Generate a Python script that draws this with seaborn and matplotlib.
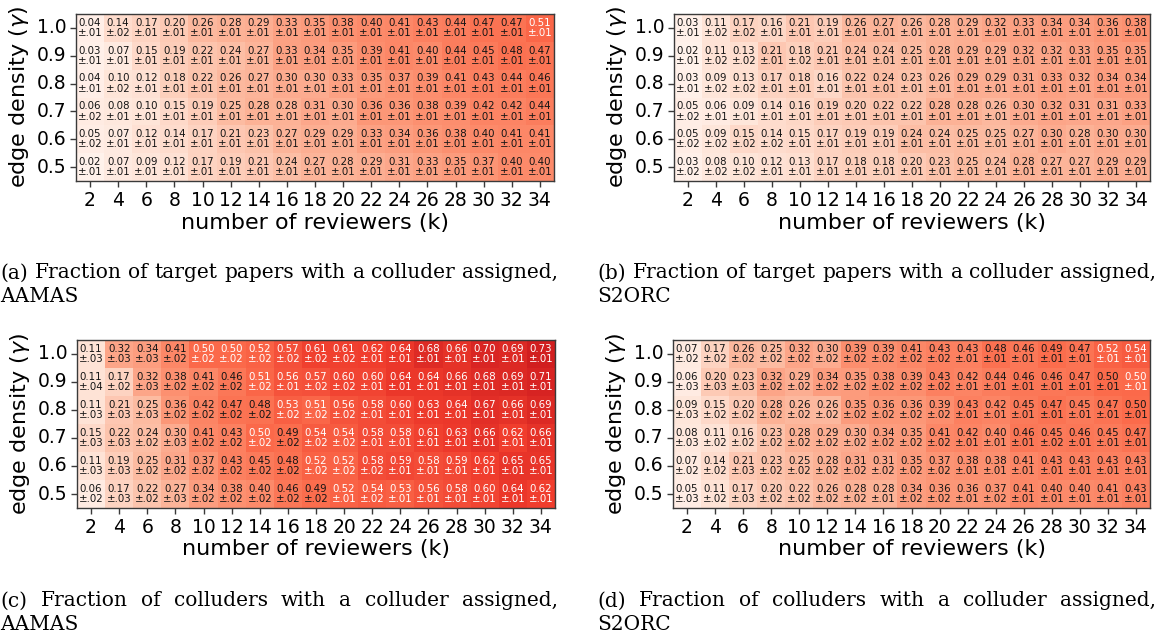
import numpy as np
import pandas as pd
import matplotlib
matplotlib.use("Agg")
import matplotlib.pyplot as plt
import seaborn as sns

# ---------------- data ----------------
k_values = [2, 4, 6, 8, 10, 12, 14, 16, 18, 20, 22, 24, 26, 28, 30, 32, 34]
gamma_labels = ["1.0", "0.9", "0.8", "0.7", "0.6", "0.5"]

a_mean = [
    [0.04, 0.14, 0.17, 0.20, 0.26, 0.28, 0.29, 0.33, 0.35, 0.38, 0.40, 0.41, 0.43, 0.44, 0.47, 0.47, 0.51],
    [0.03, 0.07, 0.15, 0.19, 0.22, 0.24, 0.27, 0.33, 0.34, 0.35, 0.39, 0.41, 0.40, 0.44, 0.45, 0.48, 0.47],
    [0.04, 0.10, 0.12, 0.18, 0.22, 0.26, 0.27, 0.30, 0.30, 0.33, 0.35, 0.37, 0.39, 0.41, 0.43, 0.44, 0.46],
    [0.06, 0.08, 0.10, 0.15, 0.19, 0.25, 0.28, 0.28, 0.31, 0.30, 0.36, 0.36, 0.38, 0.39, 0.42, 0.42, 0.44],
    [0.05, 0.07, 0.12, 0.14, 0.17, 0.21, 0.23, 0.27, 0.29, 0.29, 0.33, 0.34, 0.36, 0.38, 0.40, 0.41, 0.41],
    [0.02, 0.07, 0.09, 0.12, 0.17, 0.19, 0.21, 0.24, 0.27, 0.28, 0.29, 0.31, 0.33, 0.35, 0.37, 0.40, 0.40],
]
a_err = [
    [.01, .02, .01, .01, .01, .01, .01, .01, .01, .01, .01, .01, .01, .01, .01, .01, .01],
    [.01, .01, .01, .01, .01, .01, .01, .01, .01, .01, .01, .01, .01, .01, .01, .01, .01],
    [.01, .02, .01, .01, .01, .01, .01, .01, .01, .01, .01, .01, .01, .01, .01, .01, .01],
    [.02, .01, .01, .01, .01, .01, .01, .01, .01, .01, .01, .01, .01, .01, .01, .01, .01],
    [.02, .01, .01, .01, .01, .01, .01, .01, .01, .01, .01, .01, .01, .01, .01, .01, .01],
    [.01, .01, .01, .01, .01, .01, .01, .01, .01, .01, .01, .01, .01, .01, .01, .01, .01],
]

b_mean = [
    [0.03, 0.11, 0.17, 0.16, 0.21, 0.19, 0.26, 0.27, 0.26, 0.28, 0.29, 0.32, 0.33, 0.34, 0.34, 0.36, 0.38],
    [0.02, 0.11, 0.13, 0.21, 0.18, 0.21, 0.24, 0.24, 0.25, 0.28, 0.29, 0.29, 0.32, 0.32, 0.33, 0.35, 0.35],
    [0.03, 0.09, 0.13, 0.17, 0.18, 0.16, 0.22, 0.24, 0.23, 0.26, 0.29, 0.29, 0.31, 0.33, 0.32, 0.34, 0.34],
    [0.05, 0.06, 0.09, 0.14, 0.16, 0.19, 0.20, 0.22, 0.22, 0.28, 0.28, 0.26, 0.30, 0.32, 0.31, 0.31, 0.33],
    [0.05, 0.09, 0.15, 0.14, 0.15, 0.17, 0.19, 0.19, 0.24, 0.24, 0.25, 0.25, 0.27, 0.30, 0.28, 0.30, 0.30],
    [0.03, 0.08, 0.10, 0.12, 0.13, 0.17, 0.18, 0.18, 0.20, 0.23, 0.25, 0.24, 0.28, 0.27, 0.27, 0.29, 0.29],
]
b_err = [
    [.01, .02, .02, .01, .01, .01, .01, .01, .01, .01, .01, .01, .01, .01, .01, .01, .01],
    [.01, .02, .02, .01, .02, .01, .01, .01, .01, .01, .01, .01, .01, .01, .01, .01, .01],
    [.01, .02, .02, .01, .01, .01, .01, .01, .01, .01, .01, .01, .01, .01, .01, .01, .01],
    [.02, .01, .01, .01, .01, .01, .01, .01, .01, .01, .01, .01, .01, .01, .01, .01, .01],
    [.02, .02, .02, .02, .01, .01, .01, .01, .01, .01, .01, .01, .01, .01, .01, .01, .01],
    [.02, .02, .02, .01, .01, .01, .01, .01, .01, .01, .01, .01, .01, .01, .01, .01, .01],
]

c_mean = [
    [0.11, 0.32, 0.34, 0.41, 0.50, 0.50, 0.52, 0.57, 0.61, 0.61, 0.62, 0.64, 0.68, 0.66, 0.70, 0.69, 0.73],
    [0.11, 0.17, 0.32, 0.38, 0.41, 0.46, 0.51, 0.56, 0.57, 0.60, 0.60, 0.64, 0.64, 0.66, 0.68, 0.69, 0.71],
    [0.11, 0.21, 0.25, 0.36, 0.42, 0.47, 0.48, 0.53, 0.51, 0.56, 0.58, 0.60, 0.63, 0.64, 0.67, 0.66, 0.69],
    [0.15, 0.22, 0.24, 0.30, 0.41, 0.43, 0.50, 0.49, 0.54, 0.54, 0.58, 0.58, 0.61, 0.63, 0.66, 0.62, 0.66],
    [0.11, 0.19, 0.25, 0.31, 0.37, 0.43, 0.45, 0.48, 0.52, 0.52, 0.58, 0.59, 0.58, 0.59, 0.62, 0.65, 0.65],
    [0.06, 0.17, 0.22, 0.27, 0.34, 0.38, 0.40, 0.46, 0.49, 0.52, 0.54, 0.53, 0.56, 0.58, 0.60, 0.64, 0.62],
]
c_err = [
    [.03, .03, .03, .02, .02, .02, .02, .02, .02, .02, .01, .01, .01, .01, .01, .01, .01],
    [.04, .02, .03, .02, .02, .02, .02, .01, .02, .02, .01, .01, .01, .01, .01, .01, .01],
    [.03, .03, .03, .02, .02, .02, .02, .02, .02, .02, .01, .01, .01, .01, .01, .01, .01],
    [.03, .03, .02, .03, .02, .02, .02, .02, .02, .02, .01, .01, .01, .01, .01, .01, .01],
    [.03, .03, .02, .02, .02, .02, .02, .02, .02, .02, .02, .01, .01, .01, .01, .01, .01],
    [.02, .03, .02, .03, .02, .02, .02, .02, .02, .01, .02, .01, .01, .01, .01, .01, .01],
]

d_mean = [
    [0.07, 0.17, 0.26, 0.25, 0.32, 0.30, 0.39, 0.39, 0.41, 0.43, 0.43, 0.48, 0.46, 0.49, 0.47, 0.52, 0.54],
    [0.06, 0.20, 0.23, 0.32, 0.29, 0.34, 0.35, 0.38, 0.39, 0.43, 0.42, 0.44, 0.46, 0.46, 0.47, 0.498, 0.503],
    [0.09, 0.15, 0.20, 0.28, 0.26, 0.26, 0.35, 0.36, 0.36, 0.39, 0.43, 0.42, 0.45, 0.47, 0.45, 0.47, 0.498],
    [0.08, 0.11, 0.16, 0.23, 0.28, 0.29, 0.30, 0.34, 0.35, 0.41, 0.42, 0.40, 0.46, 0.45, 0.46, 0.45, 0.47],
    [0.07, 0.14, 0.21, 0.23, 0.25, 0.28, 0.31, 0.31, 0.35, 0.37, 0.38, 0.38, 0.41, 0.43, 0.43, 0.43, 0.43],
    [0.05, 0.11, 0.17, 0.20, 0.22, 0.26, 0.28, 0.28, 0.34, 0.36, 0.36, 0.37, 0.41, 0.40, 0.40, 0.41, 0.43],
]
d_err = [
    [.02, .02, .02, .02, .02, .02, .02, .02, .02, .02, .01, .01, .01, .01, .01, .01, .01],
    [.03, .03, .03, .02, .02, .02, .02, .02, .02, .02, .01, .01, .01, .01, .01, .01, .01],
    [.03, .02, .02, .02, .02, .02, .02, .02, .02, .02, .01, .01, .01, .01, .01, .01, .01],
    [.03, .02, .02, .02, .02, .02, .02, .02, .02, .02, .01, .01, .01, .02, .01, .01, .01],
    [.02, .02, .03, .02, .02, .02, .02, .02, .02, .02, .01, .01, .01, .01, .01, .01, .01],
    [.03, .02, .03, .02, .02, .02, .02, .01, .02, .02, .01, .02, .01, .01, .01, .01, .01],
]

captions = [
    ("(a) Fraction of target papers with a colluder assigned,", "AAMAS"),
    ("(b) Fraction of target papers with a colluder assigned,", "S2ORC"),
    ("(c) Fraction of colluders with a colluder assigned,", "AAMAS"),
    ("(d) Fraction of colluders with a colluder assigned,", "S2ORC"),
]

x_label = "number of reviewers (k)"
y_label = r"edge density ($\gamma$)"

# ---------------- figure ----------------
W, H = 1156, 643
fig = plt.figure(figsize=(W / 100, H / 100), dpi=100)

panels = [
    (a_mean, a_err, (76, 14, 554, 181)),
    (b_mean, b_err, (674, 14, 1150, 181)),
    (c_mean, c_err, (77, 340, 555, 508)),
    (d_mean, d_err, (673, 340, 1150, 508)),
]

FRAME = "#3a3a3a"

for mean, err, (x0, y0, x1, y1) in panels:
    ax = fig.add_axes([x0 / W, 1 - y1 / H, (x1 - x0) / W, (y1 - y0) / H])
    m = np.array(mean, dtype=float)
    e = np.array(err, dtype=float)
    df = pd.DataFrame(m, index=gamma_labels, columns=k_values)
    labels = np.empty(m.shape, dtype=object)
    for i in range(m.shape[0]):
        for j in range(m.shape[1]):
            labels[i, j] = f"{m[i, j]:.2f}\n\u00b1.{int(round(e[i, j] * 100)):02d}"
    sns.heatmap(df, annot=labels, fmt="", cmap="Reds", vmin=0, vmax=1,
                cbar=False, ax=ax, xticklabels=True, yticklabels=True,
                annot_kws={"fontsize": 7.4, "linespacing": 1.05})
    for t, v in zip(ax.texts, m.flatten()):
        t.set_color("white" if v >= 0.5 else "#151515")
    for s in ax.spines.values():
        s.set_visible(True)
        s.set_color(FRAME)
        s.set_linewidth(1.0)
    ax.set_yticklabels(gamma_labels, rotation=0)
    ax.set_xticklabels([str(k) for k in k_values], rotation=0)
    ax.tick_params(axis="both", length=4, width=1, color=FRAME, labelsize=13.5, pad=3)
    ax.set_xlabel(x_label, fontsize=16, labelpad=2)
    ax.set_ylabel(y_label, fontsize=16, labelpad=4)

# ---------------- captions (justified first line) ----------------
SERIF = "DejaVu Serif"
CAP_SIZE = 14.5
renderer = fig.canvas.get_renderer()


def justified(text, xa, xb, y):
    words = text.split()
    objs = [fig.text(0, 1 - y / H, w, fontsize=CAP_SIZE, family=SERIF,
                     va="center", ha="left") for w in words]
    widths = [o.get_window_extent(renderer).width for o in objs]
    gap = ((xb - xa) - sum(widths)) / (len(words) - 1)
    x = xa
    for o, w in zip(objs, widths):
        o.set_x(x / W)
        x += w + gap


cap_pos = [(0, 558, 273), (597, 1156, 273), (0, 558, 601), (597, 1156, 601)]
for (line1, line2), (xa, xb, y) in zip(captions, cap_pos):
    justified(line1, xa, xb, y)
    fig.text(xa / W, 1 - (y + 24) / H, line2, fontsize=CAP_SIZE, family=SERIF,
             va="center", ha="left")

fig.savefig("out.png", dpi=100)
